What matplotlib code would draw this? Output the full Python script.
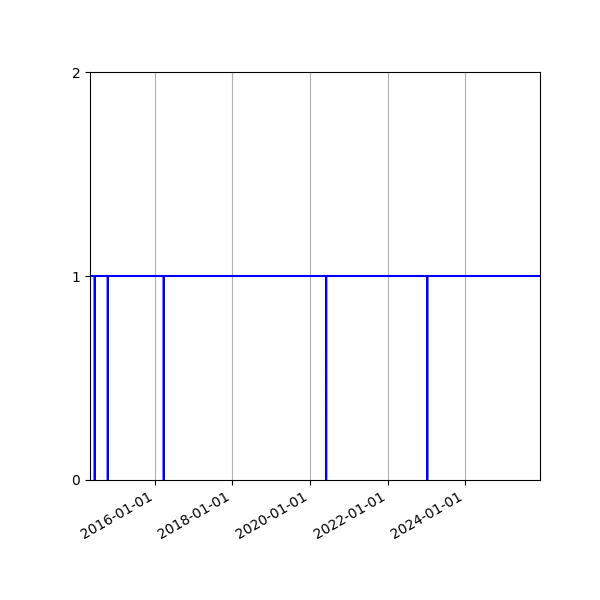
import pandas as pd
import matplotlib.pyplot as plt
import matplotlib.dates as mdates

# 数据：状态在少数日期掉到 0，其余为 1
dates = pd.to_datetime([
    '2014-05-01',
    '2014-06-14', '2014-06-15', '2014-06-16',
    '2014-10-15', '2014-10-16', '2014-10-17',
    '2016-03-25', '2016-03-26', '2016-03-27',
    '2020-06-01', '2020-06-02', '2020-06-03',
    '2023-01-09', '2023-01-10', '2023-01-11',
    '2025-12-07',
])
status = [1,
          1, 0, 1,
          1, 0, 1,
          1, 0, 1,
          1, 0, 1,
          1, 0, 1,
          1]

fig, ax = plt.subplots(figsize=(6, 6), dpi=100)
ax.plot(dates, status, color='blue', linewidth=1.5)

ax.set_xlim(dates[0], dates[-1])
ax.set_ylim(0, 2)
ax.set_yticks([0, 1, 2])

ax.xaxis.set_major_locator(mdates.YearLocator(2))
ax.xaxis.set_major_formatter(mdates.DateFormatter('%Y-%m-%d'))
ax.grid(True, axis='x')

fig.autofmt_xdate()
fig.subplots_adjust(left=0.15, right=0.9, top=0.88, bottom=0.2)

plt.savefig('out.png')
